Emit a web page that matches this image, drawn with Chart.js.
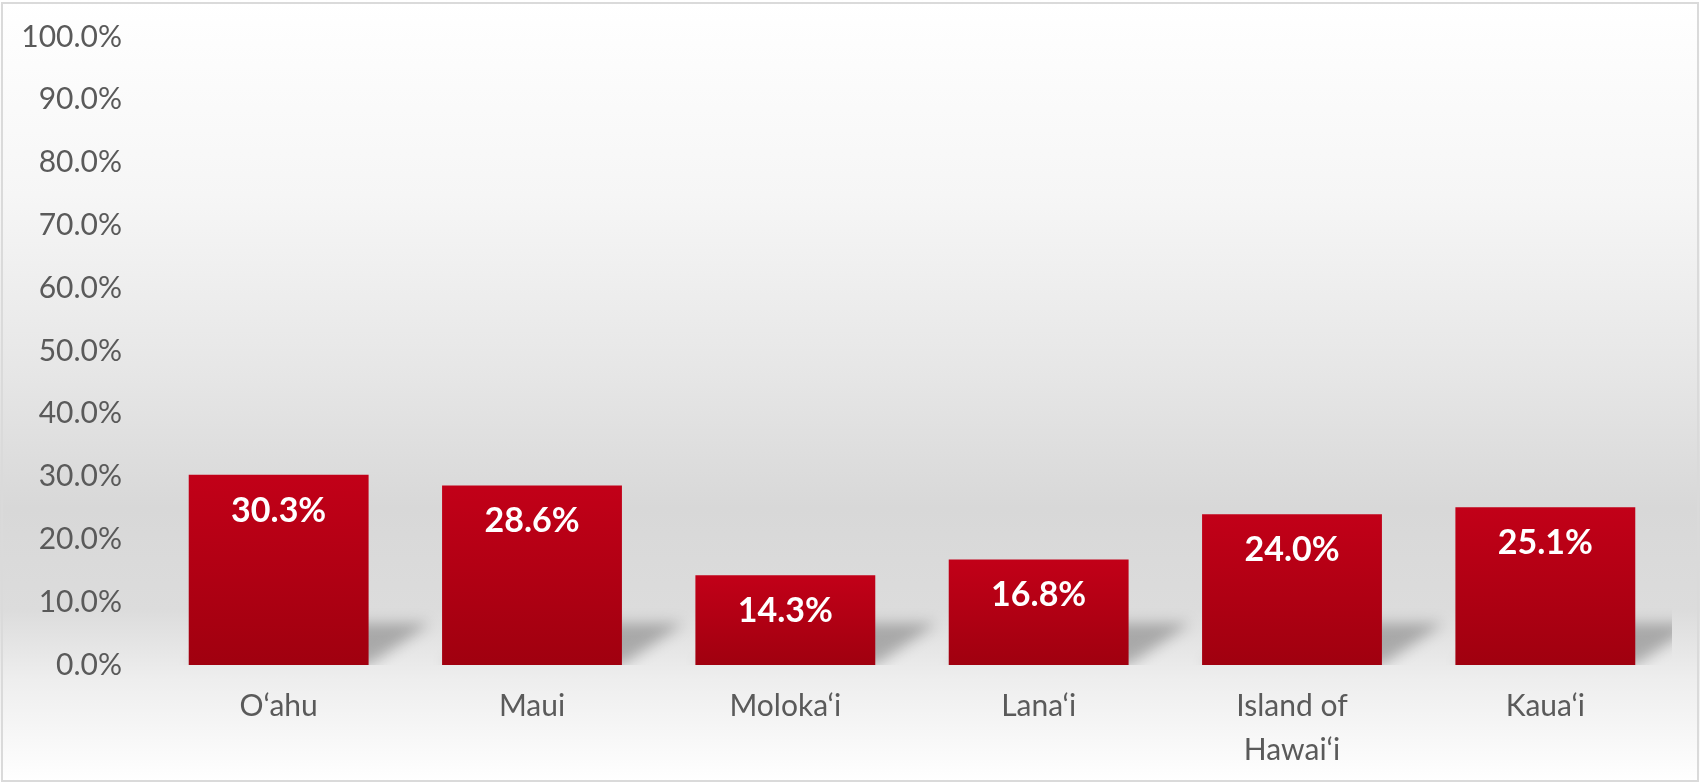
<!DOCTYPE html>
<html>
<head>
<meta charset="utf-8">
<script src="https://cdn.jsdelivr.net/npm/chart.js@4/dist/chart.umd.min.js"></script>
<style>
    html, body { margin: 0; padding: 0; }
    body {
        width: 1700px;
        height: 782px;
        position: relative;
        overflow: hidden;
        background: linear-gradient(to bottom,
            #ffffff 0%, #f6f6f6 25%, #e6e6e6 48%, #d8d8d8 65%,
            #dcdcdc 78%, #eeeeee 87%, #ffffff 100%);
    }
    #islandChart { position: absolute; left: 0; top: 0; }
    .frame {
        position: absolute;
        left: 1px; top: 2px;
        width: 1694px; height: 776px;
        border: 2px solid #dadada;
        pointer-events: none;
    }
</style>
</head>
<body>
<canvas id="islandChart" width="1700" height="782"></canvas>
<div class="frame"></div>
<script>
const islands = ['O‘ahu', 'Maui', 'Moloka‘i', 'Lana‘i', ['Island of', 'Hawai‘i'], 'Kaua‘i'];
const shares = [30.3, 28.6, 14.3, 16.8, 24.0, 25.1];
const yTicks = [0, 10, 20, 30, 40, 50, 60, 70, 80, 90, 100];

const tickFont = { family: 'Lato', size: 30 };
const tickColor = '#5a5a5a';

function barGradient(context) {
    const chart = context.chart;
    if (!chart.chartArea) return '#b40014';
    const y = chart.scales.y;
    const top = y.getPixelForValue(context.raw);
    const bottom = y.getPixelForValue(0);
    const g = chart.ctx.createLinearGradient(0, top, 0, bottom);
    g.addColorStop(0, '#c20018');
    g.addColorStop(1, '#a0000f');
    return g;
}

// soft floor shadow leaning back-right from each bar
const barShadows = {
    id: 'barShadows',
    beforeDatasetsDraw(chart) {
        const { ctx, chartArea } = chart;
        const meta = chart.getDatasetMeta(0);
        ctx.save();
        ctx.beginPath();
        ctx.rect(chartArea.left, chartArea.top, chartArea.right - chartArea.left, chartArea.bottom - chartArea.top);
        ctx.clip();
        ctx.filter = 'blur(7px)';
        ctx.fillStyle = 'rgba(0, 0, 0, 0.26)';
        meta.data.forEach(bar => {
            const half = bar.width / 2;
            const base = bar.base;
            ctx.beginPath();
            ctx.moveTo(bar.x - half, base);
            ctx.lineTo(bar.x + half, base);
            ctx.lineTo(bar.x + half + 62, base - 42);
            ctx.lineTo(bar.x - half + 62, base - 42);
            ctx.closePath();
            ctx.fill();
        });
        ctx.restore();
    }
};

// value labels inside the top of each bar
const barValues = {
    id: 'barValues',
    afterDatasetsDraw(chart) {
        const { ctx } = chart;
        const meta = chart.getDatasetMeta(0);
        ctx.save();
        ctx.fillStyle = '#ffffff';
        ctx.font = 'bold 34px Lato';
        ctx.textAlign = 'center';
        ctx.textBaseline = 'middle';
        meta.data.forEach((bar, i) => {
            ctx.fillText(shares[i].toFixed(1) + '%', bar.x, bar.y + 36);
        });
        ctx.restore();
    }
};

new Chart(document.getElementById('islandChart'), {
    type: 'bar',
    data: {
        labels: islands,
        datasets: [{
            data: shares,
            backgroundColor: barGradient,
            borderWidth: 0,
            categoryPercentage: 0.71,
            barPercentage: 1
        }]
    },
    options: {
        responsive: false,
        animation: false,
        layout: { padding: { top: 37, right: 28, bottom: 0, left: 0 } },
        plugins: {
            legend: { display: false },
            tooltip: { enabled: false }
        },
        scales: {
            y: {
                min: 0,
                max: 100,
                afterBuildTicks(scale) {
                    scale.ticks = yTicks.map(v => ({ value: v }));
                },
                afterFit(scale) {
                    scale.width = 152;
                    // tick padding is horizontal here; keep it out of the vertical margins
                    scale.paddingTop = 18;
                    scale.paddingBottom = 18;
                },
                grid: { display: false, drawTicks: false },
                border: { display: false },
                ticks: {
                    padding: 30,
                    color: tickColor,
                    font: tickFont,
                    callback: v => v.toFixed(1) + '%'
                }
            },
            x: {
                afterFit(scale) { scale.height = 117; },
                grid: { display: false, drawTicks: false },
                border: { display: false },
                ticks: {
                    padding: 20,
                    color: tickColor,
                    font: { family: 'Lato', size: 30, lineHeight: 1.45 },
                    maxRotation: 0,
                    autoSkip: false
                }
            }
        }
    },
    plugins: [barShadows, barValues]
});
</script>
</body>
</html>
